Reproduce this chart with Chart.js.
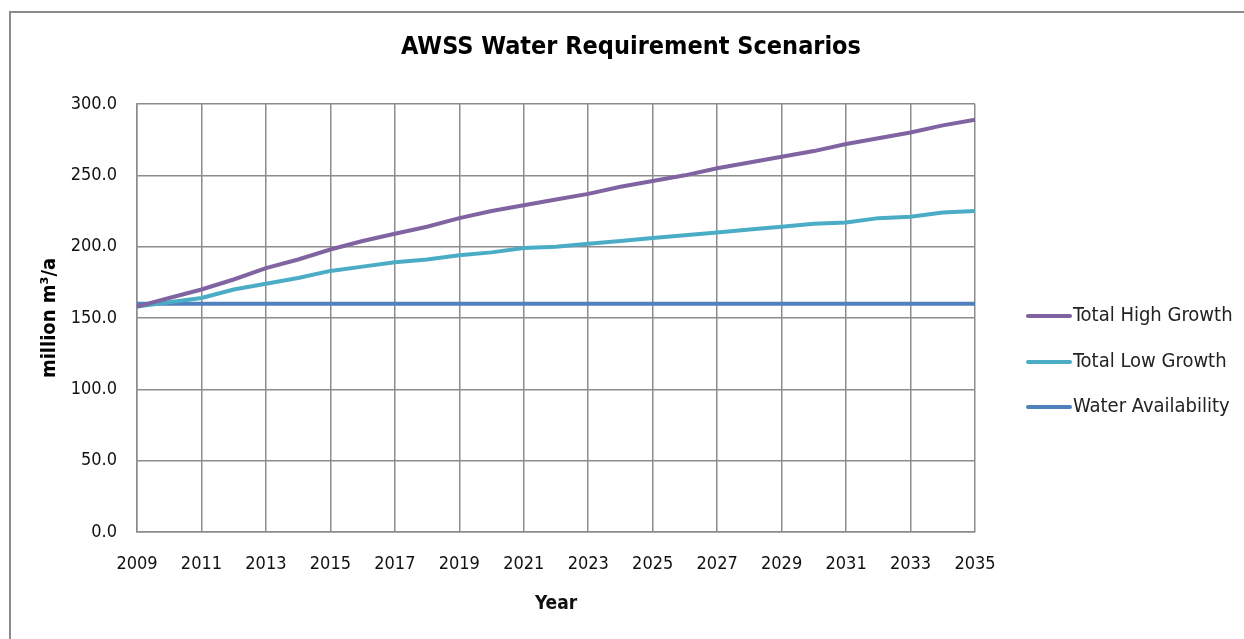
<!DOCTYPE html>
<html>
<head>
<meta charset="utf-8">
<script src="https://cdn.jsdelivr.net/npm/chart.js@4.4.1/dist/chart.umd.min.js"></script>
<style>
  html, body { margin: 0; padding: 0; background: #fff; }
  .frame {
    position: absolute; left: 9px; top: 11px; width: 1240px; height: 640px;
    border-left: 2px solid #8c8c8c; border-top: 2px solid #8c8c8c;
  }
  .wrap { position: absolute; left: 0; top: 0; width: 1244px; height: 639px; }
</style>
</head>
<body>
<div class="frame"></div>
<div class="wrap"><canvas id="myChart" width="1244" height="639"></canvas></div>
<script>
const years = ['2009','2010','2011','2012','2013','2014','2015','2016','2017','2018','2019','2020','2021','2022',
  '2023','2024','2025','2026','2027','2028','2029','2030','2031','2032','2033','2034','2035'];
const highGrowth = [158, 164, 170, 177, 185, 191, 198, 204, 209, 214, 220, 225, 229, 233,
  237, 242, 246, 250, 255, 259, 263, 267, 272, 276, 280, 285, 289];
const lowGrowth = [158, 161, 164, 170, 174, 178, 183, 186, 189, 191, 194, 196, 199, 200,
  202, 204, 206, 208, 210, 212, 214, 216, 217, 220, 221, 224, 225];
const waterAvailability = [160, 160, 160, 160, 160, 160, 160, 160, 160, 160, 160, 160, 160, 160,
  160, 160, 160, 160, 160, 160, 160, 160, 160, 160, 160, 160, 160];

const chartTitle = 'AWSS Water Requirement Scenarios';
const FONT = '"Liberation Sans Narrow", "DejaVu Sans Condensed", Lato, sans-serif';

// title + legend drawn by hand so they sit where Excel put them
const excelBits = {
  id: 'excelBits',
  afterDraw(chart) {
    const ctx = chart.ctx;
    ctx.save();
    ctx.font = 'bold 25px ' + FONT;
    ctx.fillStyle = '#000';
    ctx.textAlign = 'center';
    ctx.textBaseline = 'alphabetic';
    ctx.fillText(chartTitle, 631, 54);

    const rows = [316, 362, 407];
    ctx.font = '20px ' + FONT;
    ctx.textAlign = 'left';
    ctx.textBaseline = 'middle';
    ctx.fillStyle = '#222';
    chart.data.datasets.forEach((ds, i) => {
      ctx.strokeStyle = ds.borderColor;
      ctx.lineWidth = 4;
      ctx.lineCap = 'round';
      ctx.beginPath();
      ctx.moveTo(1028, rows[i]);
      ctx.lineTo(1070, rows[i]);
      ctx.stroke();
      ctx.fillText(ds.label, 1073, rows[i]);
    });
    ctx.restore();
  }
};

new Chart(document.getElementById('myChart'), {
  type: 'line',
  data: {
    labels: years,
    datasets: [
      { label: 'Total High Growth', data: highGrowth, borderColor: '#8064A2', backgroundColor: '#8064A2' },
      { label: 'Total Low Growth', data: lowGrowth, borderColor: '#4BACC6', backgroundColor: '#4BACC6' },
      { label: 'Water Availability', data: waterAvailability, borderColor: '#4F81BD', backgroundColor: '#4F81BD' }
    ]
  },
  options: {
    responsive: false,
    animation: false,
    layout: { padding: { left: 38, right: 269, top: 104, bottom: 17 } },
    elements: {
      point: { radius: 0 },
      line: { borderWidth: 4, tension: 0 }
    },
    plugins: {
      legend: { display: false },
      tooltip: { enabled: false },
      title: { display: false }
    },
    scales: {
      x: {
        type: 'category',
        offset: false,
        grid: {
          drawTicks: false,
          color: (c) => (c.index % 2 === 0 ? '#8c8c8c' : 'rgba(0,0,0,0)'),
          lineWidth: 1.5
        },
        border: { color: '#8c8c8c', width: 1.5 },
        ticks: {
          autoSkip: false,
          maxRotation: 0,
          padding: 22,
          color: '#111',
          font: { family: FONT, size: 18 },
          callback: function (v, i) { return i % 2 === 0 ? this.getLabelForValue(v) : ''; }
        },
        title: {
          display: true,
          text: 'Year',
          color: '#111',
          font: { family: FONT, size: 19, weight: 'bold' },
          padding: { bottom: 7 }
        },
        afterFit: (s) => { s.height = 90; }
      },
      y: {
        min: 0,
        max: 300,
        grid: { drawTicks: false, color: '#8c8c8c', lineWidth: 1.5 },
        border: { color: '#8c8c8c', width: 1.5 },
        ticks: {
          stepSize: 50,
          padding: 20,
          color: '#111',
          font: { family: FONT, size: 18 },
          callback: (v) => v.toFixed(1)
        },
        title: {
          display: true,
          text: 'million m\u00b3/a',
          color: '#000',
          font: { family: FONT, size: 20, weight: 'bold' },
          padding: { top: 0 }
        },
        afterFit: (s) => { s.width = 99; }
      }
    }
  },
  plugins: [excelBits]
});
</script>
</body>
</html>
